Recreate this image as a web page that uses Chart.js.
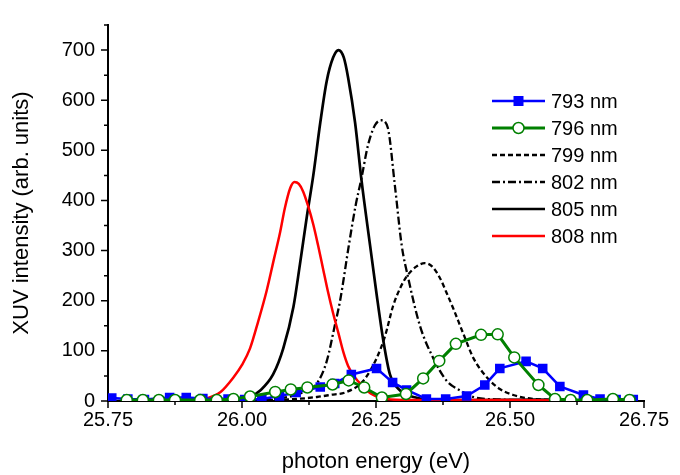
<!DOCTYPE html>
<html lang="en">
<head>
<meta charset="UTF-8">
<title>XUV intensity vs photon energy</title>
<script src="https://cdn.jsdelivr.net/npm/chart.js"></script>
<style>
  body { margin: 0; background: #fff; }
  #wrap { width: 680px; height: 475px; }
</style>
</head>
<body>
<div id="wrap"><canvas id="xuvChart" width="680" height="475"></canvas></div>
<script>
// axis ticks
const xTickValues = [25.75, 26.00, 26.25, 26.50, 26.75];
const yTickValues = [0, 100, 200, 300, 400, 500, 600, 700];

// 793 nm - blue squares
const e793 = [25.757, 25.787, 25.818, 25.865, 25.896, 25.927, 25.974, 26.005, 26.037, 26.070, 26.101, 26.146, 26.173, 26.204, 26.251, 26.281, 26.307, 26.344, 26.380, 26.419, 26.453, 26.481, 26.530, 26.561, 26.593, 26.637, 26.668, 26.698, 26.730];
const i793 = [6, 4, 3, 7, 7, 5, 4, 3, 4, 10, 17, 28, 35, 53, 65, 37, 22, 4, 4, 10, 32, 65, 79, 65, 29, 12, 4, 3, 3];

// 796 nm - green open circles
const e796 = [25.785, 25.815, 25.845, 25.875, 25.922, 25.953, 25.984, 26.015, 26.062, 26.091, 26.122, 26.169, 26.199, 26.228, 26.261, 26.306, 26.338, 26.368, 26.399, 26.446, 26.477, 26.508, 26.553, 26.584, 26.613, 26.644, 26.692, 26.723];
const i796 = [2, 2, 2, 2, 2, 2, 4, 9, 18, 23, 27, 33, 41, 27, 7, 14, 45, 80, 114, 132, 133, 87, 32, 4, 2, 2, 4, 2];

// 799 nm - dashed
const e799 = [25.75, 26.00, 26.05, 26.10, 26.14, 26.164, 26.195, 26.226, 26.251, 26.267, 26.282, 26.295, 26.307, 26.325, 26.341, 26.355, 26.369, 26.382, 26.394, 26.413, 26.432, 26.457, 26.481, 26.506, 26.537, 26.60, 26.65];
const i799 = [0, 0, 2, 4, 8, 12, 18, 40, 85, 130, 190, 225, 248, 268, 275, 268, 246, 215, 185, 134, 85, 47, 24, 12, 5, 2, 1];

// 802 nm - dash-dot
const e802 = [25.95, 26.05, 26.076, 26.108, 26.139, 26.158, 26.173, 26.183, 26.200, 26.212, 26.223, 26.235, 26.248, 26.260, 26.272, 26.285, 26.298, 26.310, 26.332, 26.357, 26.382, 26.407, 26.432, 26.480, 26.550, 26.60];
const i802 = [0, 3, 6, 15, 34, 79, 150, 200, 315, 390, 445, 510, 550, 560, 545, 432, 310, 246, 150, 85, 40, 21, 8, 3, 1, 0];

// 805 nm - solid black
const e805 = [25.95, 26.00, 26.015, 26.034, 26.058, 26.077, 26.096, 26.108, 26.121, 26.133, 26.146, 26.158, 26.170, 26.180, 26.190, 26.198, 26.211, 26.223, 26.239, 26.251, 26.264, 26.276, 26.295, 26.320, 26.351, 26.45, 26.55, 26.65];
const i805 = [0, 3, 8, 21, 53, 105, 188, 272, 368, 450, 555, 638, 685, 700, 685, 645, 555, 440, 310, 214, 118, 53, 21, 8, 3, 2, 3, 0];

// 808 nm - red
const e808 = [25.90, 25.934, 25.960, 25.984, 26.000, 26.015, 26.030, 26.046, 26.060, 26.071, 26.080, 26.090, 26.098, 26.106, 26.114, 26.123, 26.133, 26.142, 26.151, 26.160, 26.170, 26.180, 26.189, 26.198, 26.210, 26.225, 26.240, 26.260, 26.30, 26.40, 26.50, 26.60, 26.65];
const i808 = [0, 5, 18, 47, 72, 105, 158, 220, 285, 336, 385, 425, 437, 433, 418, 390, 352, 310, 265, 220, 175, 135, 98, 70, 48, 30, 15, 6, 2, 2, 2, 1, 0];

function pts(xs, ys) {
    return xs.map((x, k) => ({ x: x, y: ys[k] }));
}

const datasets = [
    { label: '793 nm', data: pts(e793, i793), borderColor: '#0000ff', backgroundColor: '#0000ff', borderWidth: 2.5,
      pointStyle: 'rect', pointRadius: 5, tension: 0, order: 1 },
    { label: '796 nm', data: pts(e796, i796), borderColor: '#008000', backgroundColor: '#ffffff', borderWidth: 3,
      pointStyle: 'circle', pointRadius: 5.5, pointBorderWidth: 1.5, tension: 0, order: 0 },
    { label: '799 nm', data: pts(e799, i799), borderColor: '#000000', borderWidth: 2.3, borderDash: [5, 3],
      pointRadius: 0, cubicInterpolationMode: 'monotone', order: 3 },
    { label: '802 nm', data: pts(e802, i802), borderColor: '#000000', borderWidth: 2.3, borderDash: [8, 3, 2, 3],
      pointRadius: 0, cubicInterpolationMode: 'monotone', order: 4 },
    { label: '805 nm', data: pts(e805, i805), borderColor: '#000000', borderWidth: 2.7,
      pointRadius: 0, cubicInterpolationMode: 'monotone', order: 5 },
    { label: '808 nm', data: pts(e808, i808), borderColor: '#ff0000', borderWidth: 2.5,
      pointRadius: 0, cubicInterpolationMode: 'monotone', order: 2 }
];

// major + minor tick marks drawn outside the plot
const tickMarks = {
    id: 'tickMarks',
    afterDraw(chart) {
        const ctx = chart.ctx, xs = chart.scales.x, ys = chart.scales.y, area = chart.chartArea;
        ctx.save();
        ctx.strokeStyle = '#000';
        ctx.lineWidth = 1.5;
        ctx.beginPath();
        xTickValues.forEach((v, k) => {
            const px = xs.getPixelForValue(v);
            ctx.moveTo(px, area.bottom); ctx.lineTo(px, area.bottom + 7);
            if (k < xTickValues.length - 1) {
                const mx = xs.getPixelForValue((v + xTickValues[k + 1]) / 2);
                ctx.moveTo(mx, area.bottom); ctx.lineTo(mx, area.bottom + 4);
            }
        });
        yTickValues.forEach((v, k) => {
            const py = ys.getPixelForValue(v);
            ctx.moveTo(area.left, py); ctx.lineTo(area.left - 7, py);
            const next = k < yTickValues.length - 1 ? yTickValues[k + 1] : v + 100;
            const my = ys.getPixelForValue((v + next) / 2);
            ctx.moveTo(area.left, my); ctx.lineTo(area.left - 4, my);
        });
        ctx.stroke();
        ctx.restore();
    }
};

// legend with line sample and marker
const lineLegend = {
    id: 'lineLegend',
    afterDraw(chart) {
        const ctx = chart.ctx;
        const x0 = 492, x1 = 545, y0 = 101, dy = 27;
        ctx.save();
        ctx.font = '20px "Liberation Sans", Arial, sans-serif';
        ctx.textBaseline = 'middle';
        chart.data.datasets.forEach((ds, k) => {
            const y = y0 + k * dy;
            ctx.strokeStyle = ds.borderColor;
            ctx.lineWidth = ds.borderWidth;
            ctx.setLineDash(ds.borderDash || []);
            ctx.beginPath();
            ctx.moveTo(x0, y); ctx.lineTo(x1, y);
            ctx.stroke();
            ctx.setLineDash([]);
            const cx = (x0 + x1) / 2;
            if (ds.pointStyle === 'rect') {
                ctx.fillStyle = ds.borderColor;
                ctx.fillRect(cx - 5, y - 5, 10, 10);
            } else if (ds.pointStyle === 'circle') {
                ctx.fillStyle = '#fff';
                ctx.lineWidth = 1.5;
                ctx.beginPath();
                ctx.arc(cx, y, 5.5, 0, Math.PI * 2);
                ctx.fill(); ctx.stroke();
            }
            ctx.fillStyle = '#000';
            ctx.fillText(ds.label, 551, y + 1);
        });
        ctx.restore();
    }
};

const tickFont = { family: '"Liberation Sans", Arial, sans-serif', size: 20 };
const titleFont = { family: '"Liberation Sans", Arial, sans-serif', size: 22 };

new Chart(document.getElementById('xuvChart'), {
    type: 'line',
    data: { datasets: datasets },
    options: {
        responsive: false,
        animation: false,
        layout: { padding: { left: 0, right: 36, top: 12, bottom: 0 } },
        plugins: { legend: { display: false }, tooltip: { enabled: false } },
        scales: {
            x: {
                type: 'linear', min: 25.75, max: 26.75,
                afterBuildTicks: s => { s.ticks = xTickValues.map(v => ({ value: v })); },
                afterFit: s => { s.height = 74; },
                ticks: { color: '#000', font: tickFont, padding: 7, maxRotation: 0,
                         callback: v => v.toFixed(2) },
                grid: { display: true, drawOnChartArea: false, drawTicks: false },
                border: { display: true, color: '#000', width: 2 },
                title: { display: true, text: 'photon energy (eV)', color: '#000', font: titleFont,
                         padding: { top: 0, bottom: 0 } }
            },
            y: {
                min: 0, max: 750,
                afterBuildTicks: s => { s.ticks = yTickValues.map(v => ({ value: v })); },
                afterFit: s => { s.width = 108; },
                ticks: { color: '#000', font: tickFont, padding: 13 },
                grid: { display: true, drawOnChartArea: false, drawTicks: false },
                border: { display: true, color: '#000', width: 2 },
                title: { display: true, text: 'XUV intensity (arb. units)', color: '#000', font: titleFont,
                         padding: { top: 9, bottom: 0 } }
            }
        }
    },
    plugins: [tickMarks, lineLegend]
});
</script>
</body>
</html>
